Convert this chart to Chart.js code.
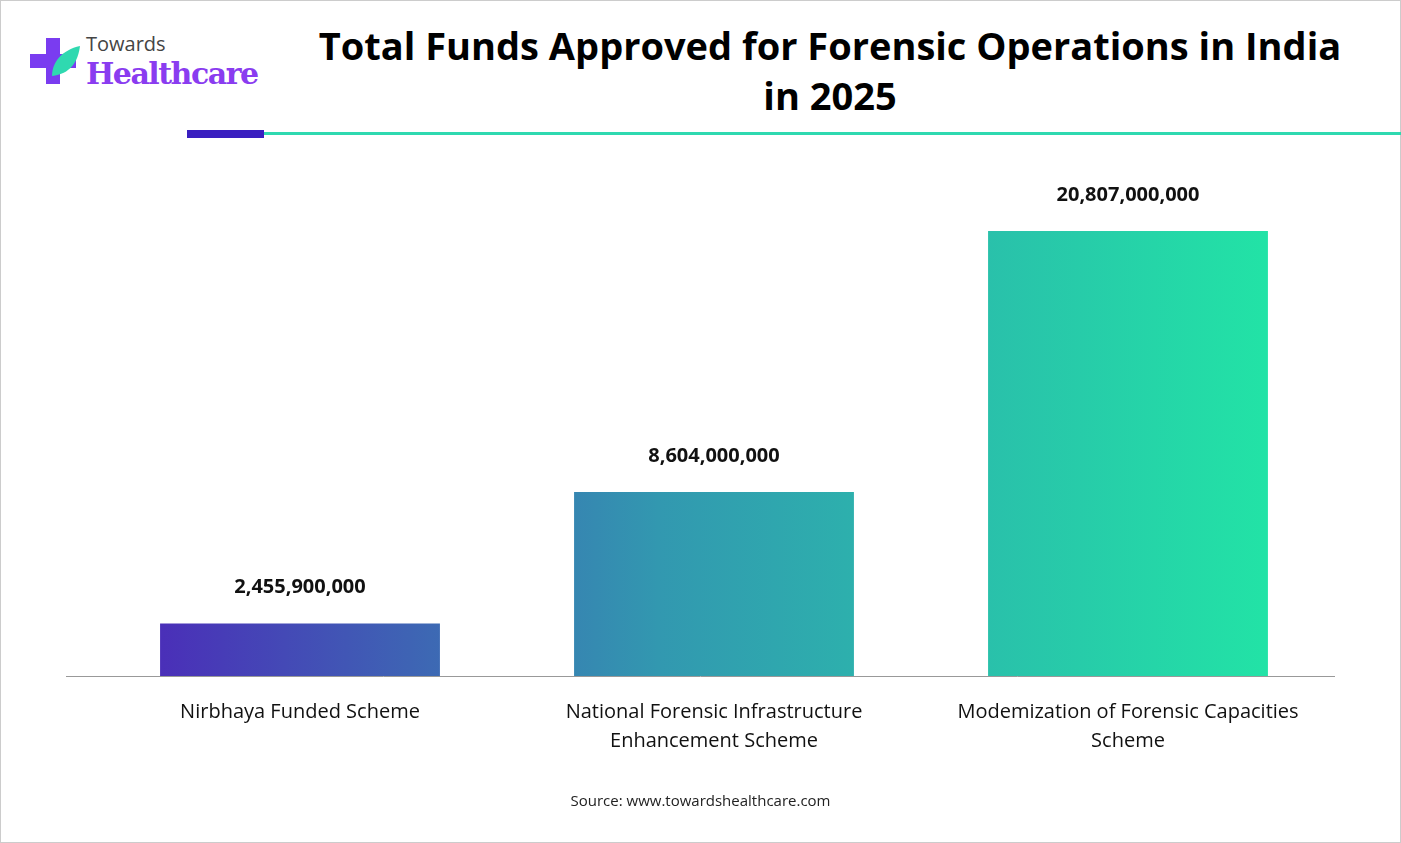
<!DOCTYPE html>
<html><head><meta charset="utf-8">
<script src="https://cdn.jsdelivr.net/npm/chart.js@4"></script>
<style>
body{margin:0;width:1401px;height:843px;background:#fff;font-family:"Open Sans",sans-serif;overflow:hidden}
#frame{position:absolute;left:0;top:0;width:1399px;height:841px;border:1px solid #ccc}
#title{position:absolute;left:300px;width:1060px;top:20px;text-align:center;font-size:38px;font-weight:700;line-height:50px;color:#000;white-space:nowrap}
#bar1{position:absolute;left:187px;top:130px;width:77px;height:8px;background:#3a1fc0}
#bar2{position:absolute;left:264px;top:132px;width:1137px;height:3px;background:#2fd9b0}
#logo{position:absolute;left:28px;top:30px}
#src{position:absolute;left:0;width:1401px;top:790px;text-align:center;font-size:15px;color:#222}
canvas{position:absolute;left:0;top:0}
</style></head><body>
<div id="frame"></div>
<div id="logo">
<svg width="60" height="62" style="position:absolute;left:0;top:2px"><path d="M18 6h14v16h16v14H32v16H18V36H2V22h16z" fill="#7a3cf0"/><path d="M24 44c0-14 10-26 28-30-2 16-10 28-28 30z" fill="#2fd9b0"/></svg>
<div style="position:absolute;left:58px;top:0;font-size:20px;color:#444;white-space:nowrap">Towards</div>
<div style="position:absolute;left:58px;top:26px;font-size:30px;font-weight:700;color:#8a3cf0;white-space:nowrap;font-family:'DejaVu Serif',serif;letter-spacing:-1.5px">Healthcare</div>
</div>
<div id="title">Total Funds Approved for Forensic Operations in India<br>in 2025</div>
<div id="bar1"></div><div id="bar2"></div>
<canvas id="c" width="1401" height="843"></canvas>
<div id="src">Source: www.towardshealthcare.com</div>
<script>
const categories=[["Nirbhaya Funded Scheme"],["National Forensic Infrastructure","Enhancement Scheme"],["Modemization of Forensic Capacities","Scheme"]];
const values=[2455900000,8604000000,20807000000];
const ctx=document.getElementById('c').getContext('2d');
function grad(c){const g=c.chart.ctx.createLinearGradient(160,0,1268,0);g.addColorStop(0,'#4a2fb8');g.addColorStop(0.45,'#3298b0');g.addColorStop(1,'#22e3a6');return g;}
new Chart(ctx,{type:'bar',data:{labels:categories,datasets:[{data:values,backgroundColor:grad,barPercentage:0.676,categoryPercentage:1}]},
options:{responsive:false,animation:false,layout:{padding:{left:93,right:66,top:170,bottom:73}},
plugins:{legend:{display:false},tooltip:{enabled:false}},
scales:{y:{display:false,min:0,max:23660000000},x:{grid:{display:false},border:{display:false},ticks:{color:'#111',font:{family:'Open Sans',size:20,lineHeight:1.45},padding:14}}}},
plugins:[{id:'lbl',afterDatasetsDraw(ch){const c=ch.ctx;c.save();
const y=Math.round(ch.chartArea.bottom)+0.5;c.strokeStyle='#999';c.lineWidth=1;c.beginPath();c.moveTo(66,y);c.lineTo(ch.chartArea.right,y);c.stroke();
c.font='bold 20px "Open Sans"';c.fillStyle='#111';c.textAlign='center';
ch.getDatasetMeta(0).data.forEach((b,i)=>c.fillText(values[i].toLocaleString('en-US'),b.x,b.y-30));c.restore();}}]});
</script></body></html>
